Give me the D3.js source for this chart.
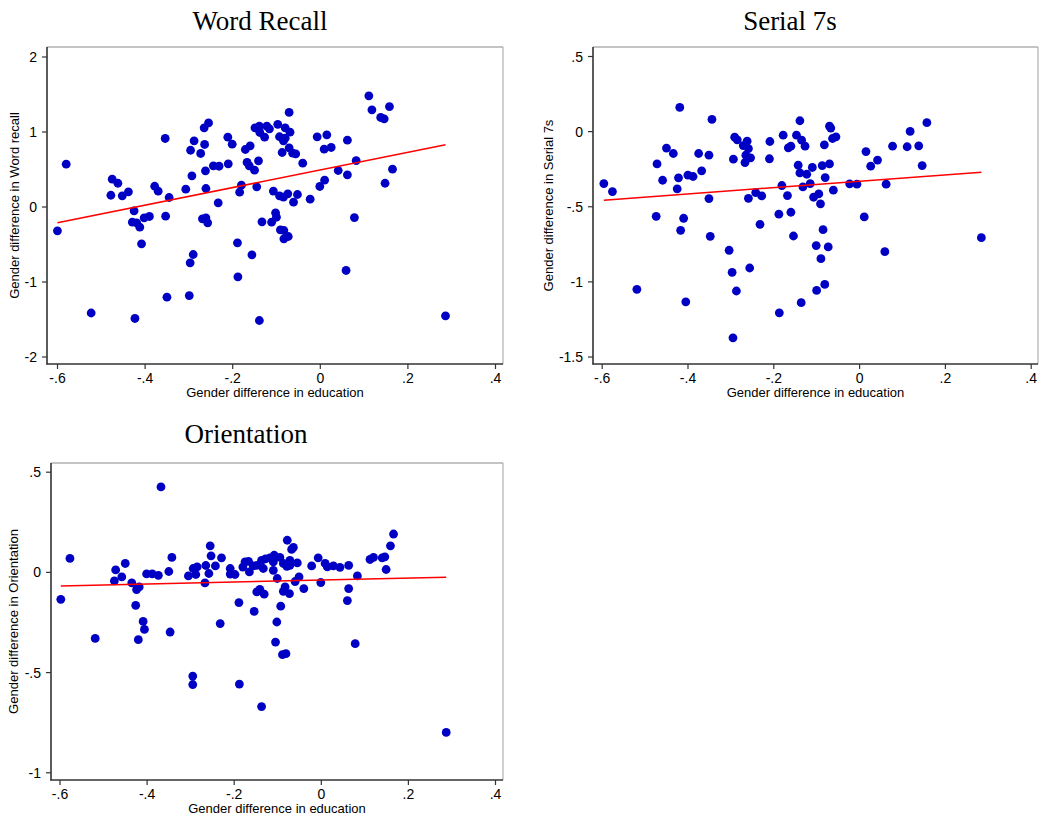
<!DOCTYPE html>
<html><head><meta charset="utf-8">
<script src="https://cdn.jsdelivr.net/npm/d3@7/dist/d3.min.js"></script>
<style>body{margin:0;background:#fff}svg{display:block}</style>
</head><body>
<svg id="chart" width="1050" height="822"></svg>
<script>
// ---------- DATA ----------
const panelTitles = ["Word Recall", "Serial 7s", "Orientation"];
const yAxisTitles = ["Gender difference in Word recall", "Gender difference in Serial 7s", "Gender difference in Orientation"];
const xAxisTitle = "Gender difference in education";
const xTicks = [-0.6, -0.4, -0.2, 0, 0.2, 0.4];
const wordRecallTicks = [-2, -1, 0, 1, 2];
const serial7Ticks = [-1.5, -1, -0.5, 0, 0.5];
const orientationTicks = [-1, -0.5, 0, 0.5];

const wordRecallPoints = [
[-0.579,0.564],[-0.474,0.364],[-0.461,0.31],[-0.477,0.15],[-0.451,0.143],[-0.437,0.196],[-0.424,-0.057],
[-0.353,0.907],[-0.377,0.27],[-0.369,0.204],[-0.344,0.12],[-0.306,0.231],[-0.292,0.409],[-0.295,0.75],
[-0.287,0.876],[-0.272,0.707],[-0.263,0.827],[-0.264,1.049],[-0.254,1.115],[-0.261,0.476],[-0.26,0.24],
[-0.243,0.542],[-0.23,0.537],[-0.232,0.049],[-0.209,0.569],[-0.21,0.924],[-0.2,0.831],[-0.179,0.284],
[-0.183,0.191],[-0.17,0.76],[-0.159,0.809],[-0.166,0.587],[-0.161,0.542],[-0.149,0.484],[-0.14,0.609],
[-0.144,0.262],[-0.148,1.049],[-0.138,1.071],[-0.137,0.987],[-0.126,0.924],[-0.121,1.071],[-0.115,1.036],
[-0.096,1.096],[-0.106,0.206],[-0.07,1.255],[-0.079,1.049],[-0.068,0.991],[-0.092,0.93],[-0.083,0.876],
[-0.079,0.911],[-0.086,0.72],[-0.07,0.782],[-0.062,0.711],[-0.055,0.702],[-0.039,0.578],[-0.092,0.142],
[-0.083,0.124],[-0.073,0.169],[-0.051,0.16],[-0.06,0.058],[-0.022,0.098],[-0.006,0.929],[0.016,0.956],
[0.01,0.764],[0.026,0.787],[0.063,0.884],[0.0,0.267],[0.011,0.351],[0.042,0.48],[0.063,0.422],[0.083,0.613],
[0.112,1.476],[0.119,1.289],[0.159,1.333],[0.139,1.187],[0.147,1.169],[0.166,0.498],[0.149,0.31],[0.079,-0.147],
[-0.599,-0.324],[-0.428,-0.209],[-0.418,-0.217],[-0.411,-0.276],[-0.401,-0.151],[-0.389,-0.133],[-0.407,-0.497],
[-0.352,-0.129],[-0.268,-0.164],[-0.26,-0.151],[-0.256,-0.217],[-0.289,-0.64],[-0.296,-0.751],[-0.298,-1.187],
[-0.349,-1.209],[-0.522,-1.42],[-0.422,-1.493],[-0.188,-0.484],[-0.187,-0.937],[-0.155,-0.644],[-0.138,-1.52],
[-0.132,-0.204],[-0.11,-0.209],[-0.101,-0.084],[-0.099,-0.143],[-0.09,-0.311],[-0.082,-0.32],[-0.082,-0.431],
[-0.072,-0.4],[0.06,-0.853],[0.287,-1.457]
];

const serial7Points = [
[-0.595,-0.349],[-0.575,-0.402],[-0.418,0.158],[-0.343,0.078],[-0.471,-0.218],[-0.449,-0.113],[-0.433,-0.149],
[-0.458,-0.327],[-0.421,-0.311],[-0.424,-0.384],[-0.399,-0.293],[-0.387,-0.302],[-0.367,-0.264],[-0.374,-0.149],
[-0.35,-0.16],[-0.35,-0.449],[-0.29,-0.04],[-0.284,-0.058],[-0.261,-0.067],[-0.27,-0.096],[-0.258,-0.116],
[-0.293,-0.187],[-0.264,-0.16],[-0.253,-0.178],[-0.266,-0.209],[-0.258,-0.447],[-0.241,-0.409],[-0.227,-0.431],
[-0.208,-0.069],[-0.209,-0.184],[-0.177,-0.027],[-0.18,-0.362],[-0.167,-0.429],[-0.159,-0.1],[-0.165,-0.111],
[-0.146,-0.027],[-0.138,0.069],[-0.134,-0.06],[-0.126,-0.1],[-0.142,-0.227],[-0.138,-0.278],[-0.122,-0.287],
[-0.131,-0.371],[-0.187,-0.553],[-0.159,-0.54],[-0.109,-0.242],[-0.114,-0.349],[-0.079,-0.309],[-0.086,-0.229],
[-0.069,-0.218],[-0.081,-0.091],[-0.069,0.033],[-0.066,0.02],[-0.062,-0.049],[-0.054,-0.038],[-0.106,-0.44],
[-0.094,-0.418],[-0.09,-0.484],[-0.06,-0.393],[0.012,-0.571],[0.016,-0.136],[0.027,-0.233],[0.043,-0.193],
[-0.022,-0.351],[-0.005,-0.353],[0.063,-0.353],[0.078,-0.1],[0.112,-0.104],[0.139,-0.098],[0.119,-0.002],
[0.158,0.056],[0.147,-0.229],[-0.473,-0.567],[-0.409,-0.58],[-0.416,-0.66],[-0.347,-0.7],[-0.303,-0.793],
[-0.296,-0.94],[-0.286,-1.064],[-0.255,-0.911],[-0.231,-0.62],[-0.153,-0.698],[-0.135,-1.142],[-0.186,-1.209],
[-0.294,-1.376],[-0.518,-1.053],[-0.404,-1.136],[-0.084,-0.656],[-0.1,-0.762],[-0.072,-0.771],[-0.089,-0.849],
[-0.08,-1.02],[-0.099,-1.06],[0.06,-0.802],[0.285,-0.709]
];

const orientationPoints = [
[-0.597,-0.137],[-0.576,0.067],[-0.367,0.424],[-0.471,0.01],[-0.474,-0.045],[-0.457,-0.025],[-0.449,0.042],
[-0.434,-0.055],[-0.423,-0.088],[-0.417,-0.075],[-0.425,-0.167],[-0.4,-0.01],[-0.387,-0.01],[-0.373,-0.017],
[-0.349,0.002],[-0.342,0.072],[-0.304,-0.02],[-0.293,0.017],[-0.284,0.025],[-0.287,-0.013],[-0.266,-0.055],
[-0.264,0.032],[-0.257,-0.008],[-0.254,0.13],[-0.252,0.08],[-0.242,0.03],[-0.228,0.07],[-0.208,0.017],
[-0.208,-0.011],[-0.197,-0.013],[-0.188,-0.153],[-0.179,0.024],[-0.174,0.05],[-0.166,0.053],[-0.164,0.0],
[-0.155,0.03],[-0.147,0.033],[-0.153,-0.197],[-0.147,-0.1],[-0.14,-0.087],[-0.13,-0.111],[-0.136,0.058],
[-0.127,0.065],[-0.132,0.017],[-0.117,0.07],[-0.107,0.083],[-0.109,0.05],[-0.077,0.158],[-0.067,0.112],
[-0.063,0.122],[-0.094,0.072],[-0.086,0.042],[-0.078,0.028],[-0.071,0.058],[-0.071,0.033],[-0.054,0.045],
[-0.109,0.008],[-0.1,-0.033],[-0.05,-0.025],[-0.059,-0.048],[-0.039,-0.083],[-0.082,-0.075],[-0.086,-0.097],
[-0.072,-0.108],[-0.092,-0.171],[-0.021,0.03],[-0.006,0.07],[0.0,-0.053],[0.01,0.042],[0.015,0.025],
[0.029,0.03],[0.044,0.023],[0.064,0.033],[0.084,-0.02],[0.064,-0.083],[0.061,-0.143],[0.113,0.062],
[0.121,0.072],[0.141,0.07],[0.147,0.075],[0.15,0.012],[0.16,0.13],[0.167,0.189],[-0.408,-0.247],
[-0.405,-0.287],[-0.419,-0.338],[-0.518,-0.332],[-0.346,-0.3],[-0.294,-0.52],[-0.294,-0.562],[-0.231,-0.258],
[-0.187,-0.56],[-0.136,-0.672],[-0.101,-0.25],[-0.104,-0.35],[-0.088,-0.413],[-0.08,-0.408],[0.079,-0.358],
[0.288,-0.801]
];

// fitted line (intercept, slope)
const fitIntercepts = [0.486, -0.334, -0.041];
const fitSlopes = [1.175, 0.212, 0.049];

// ---------- LAYOUT ----------
const panels = [
  { points: wordRecallPoints, yTicks: wordRecallTicks, yDomain: [-2, 2],
    frame: {l: 47, r: 503, t: 47, b: 364}, xRange: [57, 495], yRange: [356.5, 56.5],
    titleX: 260, titleY: 30, yTitleX: 19, xTitleY: 397, xTickY: 383 },
  { points: serial7Points, yTicks: serial7Ticks, yDomain: [-1.5, 0.5],
    frame: {l: 593, r: 1038, t: 47, b: 364}, xRange: [601.7, 1030.7], yRange: [356.5, 56],
    titleX: 790, titleY: 30, yTitleX: 553, xTitleY: 397, xTickY: 383 },
  { points: orientationPoints, yTicks: orientationTicks, yDomain: [-1, 0.5],
    frame: {l: 51, r: 503, t: 463, b: 780}, xRange: [59.5, 495], yRange: [772.3, 471.7],
    titleX: 246, titleY: 443, yTitleX: 18, xTitleY: 813, xTickY: 799 }
];

const fmt = v => {
  if (v === 0) return "0";
  let s = String(Math.round(v * 100) / 100);
  return s.replace(/^(-?)0\./, "$1.");
};

const svg = d3.select("#chart");
const SANS = "'Liberation Sans', Arial, sans-serif";

panels.forEach((p, i) => {
  const g = svg.append("g");
  const x = d3.scaleLinear().domain([-0.6, 0.4]).range(p.xRange);
  const y = d3.scaleLinear().domain(p.yDomain).range(p.yRange);
  const f = p.frame;

  // title
  g.append("text").attr("x", p.titleX).attr("y", p.titleY)
    .attr("text-anchor", "middle")
    .style("font-family", "'Liberation Serif', 'Times New Roman', serif")
    .style("font-size", "27px").attr("fill", "#000").text(panelTitles[i]);

  // frame (top/right light)
  g.append("line").attr("x1", f.l).attr("x2", f.r).attr("y1", f.t).attr("y2", f.t)
    .attr("stroke", "#8a8a8a").attr("stroke-width", 1.2);
  g.append("line").attr("x1", f.r).attr("x2", f.r).attr("y1", f.t).attr("y2", f.b)
    .attr("stroke", "#b0b0b0").attr("stroke-width", 1.2);

  // x axis
  const xAxis = d3.axisBottom(x).tickValues(xTicks).tickFormat(fmt).tickSizeInner(5).tickSizeOuter(0).tickPadding(3);
  const xg = g.append("g").attr("transform", `translate(0,${f.b})`).call(xAxis);
  xg.select(".domain").remove();
  xg.selectAll(".tick line").attr("stroke", "#333").attr("stroke-width", 1.2);
  xg.selectAll(".tick text").attr("y", null).attr("dy", null)
    .attr("transform", `translate(0,${p.xTickY - f.b})`)
    .style("font-family", SANS).style("font-size", "14px").attr("fill", "#000");

  // y axis
  const yAxis = d3.axisLeft(y).tickValues(p.yTicks).tickFormat(fmt).tickSizeInner(5).tickSizeOuter(0).tickPadding(5);
  const yg = g.append("g").attr("transform", `translate(${f.l},0)`).call(yAxis);
  yg.select(".domain").remove();
  yg.selectAll(".tick line").attr("stroke", "#333").attr("stroke-width", 1.2);
  yg.selectAll(".tick text").attr("dy", "0.36em")
    .style("font-family", SANS).style("font-size", "14px").attr("fill", "#000");

  // axis lines
  g.append("line").attr("x1", f.l).attr("x2", f.l).attr("y1", f.t).attr("y2", f.b + 0.6)
    .attr("stroke", "#333").attr("stroke-width", 1.6);
  g.append("line").attr("x1", f.l - 0.6).attr("x2", f.r).attr("y1", f.b).attr("y2", f.b)
    .attr("stroke", "#333").attr("stroke-width", 1.6);

  // axis titles
  g.append("text").attr("x", (f.l + f.r) / 2).attr("y", p.xTitleY)
    .attr("text-anchor", "middle").style("font-family", SANS).style("font-size", "13px")
    .attr("fill", "#000").text(xAxisTitle);
  const yc = (f.t + f.b) / 2;
  g.append("text").attr("transform", `translate(${p.yTitleX},${yc}) rotate(-90)`)
    .attr("text-anchor", "middle").style("font-family", SANS).style("font-size", "13px")
    .attr("fill", "#000").text(yAxisTitles[i]);

  // points
  g.append("g").selectAll("circle").data(p.points).join("circle")
    .attr("cx", d => x(d[0])).attr("cy", d => y(d[1])).attr("r", 4.4)
    .attr("fill", "#0000c4");

  // fitted line across the data range
  const ext = d3.extent(p.points, d => d[0]);
  const fit = ext.map(v => [v, fitIntercepts[i] + fitSlopes[i] * v]);
  g.append("path").datum(fit)
    .attr("d", d3.line().x(d => x(d[0])).y(d => y(d[1])))
    .attr("stroke", "#ff0000").attr("stroke-width", 1.5).attr("fill", "none");
});
</script>
</body></html>
